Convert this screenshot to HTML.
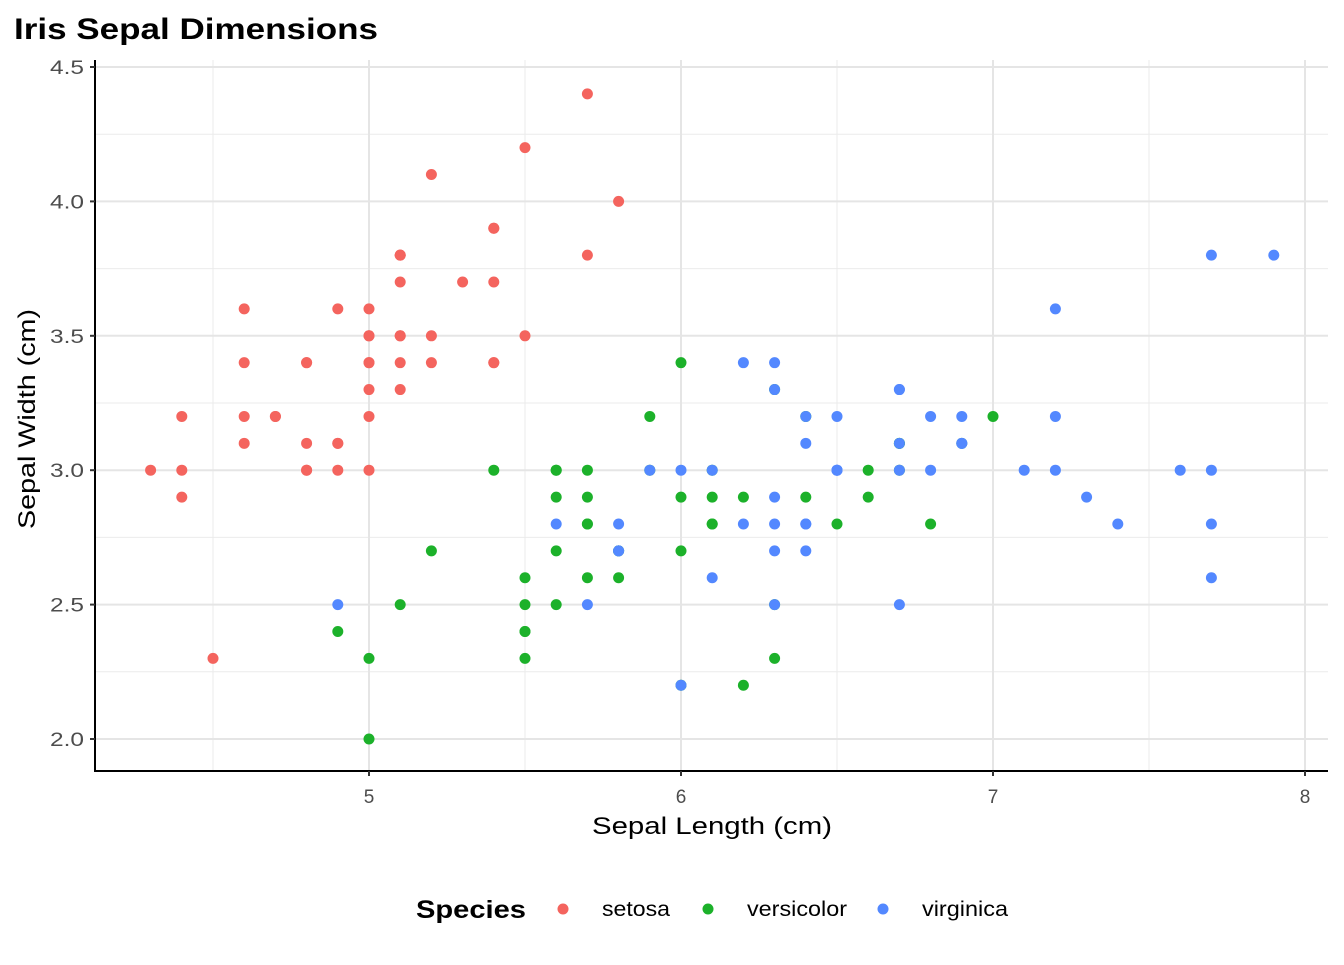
<!DOCTYPE html>
<html><head><meta charset="utf-8"><style>
body{margin:0;background:#fff;}
svg text{font-family:"Liberation Sans",Arial,sans-serif;}
</style></head><body>
<svg id="s" width="1344" height="960" xmlns="http://www.w3.org/2000/svg">
<rect width="1344" height="960" fill="#fff"/>
<g id="grid"></g>
<g id="pts"></g>
<line x1="95" y1="60" x2="95" y2="771" stroke="#000" stroke-width="2"/>
<line x1="94" y1="771" x2="1328" y2="771" stroke="#000" stroke-width="2"/>
<g id="ticks"></g>
<text x="14" y="39" font-size="30" font-weight="bold" fill="#000" textLength="364" lengthAdjust="spacingAndGlyphs">Iris Sepal Dimensions</text>
<text x="592" y="834" font-size="24" fill="#000" textLength="240" lengthAdjust="spacingAndGlyphs">Sepal Length (cm)</text>
<text transform="translate(35,529) rotate(-90)" font-size="24" fill="#000" textLength="220" lengthAdjust="spacingAndGlyphs">Sepal Width (cm)</text>
<text x="416" y="918" font-size="25" font-weight="bold" fill="#000" textLength="110" lengthAdjust="spacingAndGlyphs">Species</text>
<circle cx="563" cy="909" r="5.5" fill="#F4645E"/>
<text x="602" y="916" font-size="21" fill="#000" textLength="68" lengthAdjust="spacingAndGlyphs">setosa</text>
<circle cx="708" cy="909" r="5.5" fill="#1CB12A"/>
<text x="747" y="916" font-size="21" fill="#000" textLength="100" lengthAdjust="spacingAndGlyphs">versicolor</text>
<circle cx="883" cy="909" r="5.5" fill="#5388FF"/>
<text x="922" y="916" font-size="21" fill="#000" textLength="86" lengthAdjust="spacingAndGlyphs">virginica</text>
</svg>
<script>
var NS="http://www.w3.org/2000/svg";
function X(v){return 369+(v-5)*312;}
function Y(v){return 739-(v-2)*268.8;}
function el(p,n,a){var e=document.createElementNS(NS,n);for(var k in a)e.setAttribute(k,a[k]);p.appendChild(e);return e;}
var g=document.getElementById('grid'),t=document.getElementById('ticks'),P=document.getElementById('pts');
for(var v=4.5;v<=7.6;v+=1){el(g,'line',{x1:X(v),x2:X(v),y1:60,y2:771,stroke:'#EBEBEB','stroke-width':1});}
for(var v=2.25;v<4.5;v+=0.5){el(g,'line',{x1:95,x2:1328,y1:Y(v),y2:Y(v),stroke:'#EBEBEB','stroke-width':1});}
for(var v=5;v<=8;v++){el(g,'line',{x1:X(v),x2:X(v),y1:60,y2:771,stroke:'#E5E5E5','stroke-width':2});
 el(t,'line',{x1:X(v),x2:X(v),y1:771,y2:776,stroke:'#333','stroke-width':2});
 var tx=el(t,'text',{x:X(v),y:803,'font-size':19,'text-anchor':'middle',fill:'#4D4D4D'});tx.textContent=v;}
for(var i=0;i<=5;i++){var v=2+i*0.5;el(g,'line',{x1:95,x2:1328,y1:Y(v),y2:Y(v),stroke:'#E5E5E5','stroke-width':2});
 el(t,'line',{x1:90,x2:95,y1:Y(v),y2:Y(v),stroke:'#333','stroke-width':2});
 var tx=el(t,'text',{x:50,y:Y(v)+7,'font-size':19,fill:'#4D4D4D',textLength:34,lengthAdjust:'spacingAndGlyphs'});tx.textContent=v.toFixed(1);}
var D=[["#F4645E","5.1,3.5;4.9,3.0;4.7,3.2;4.6,3.1;5.0,3.6;5.4,3.9;4.6,3.4;5.0,3.4;4.4,2.9;4.9,3.1;5.4,3.7;4.8,3.4;4.8,3.0;4.3,3.0;5.8,4.0;5.7,4.4;5.4,3.9;5.1,3.5;5.7,3.8;5.1,3.8;5.4,3.4;5.1,3.7;4.6,3.6;5.1,3.3;4.8,3.4;5.0,3.0;5.0,3.4;5.2,3.5;5.2,3.4;4.7,3.2;4.8,3.1;5.4,3.4;5.2,4.1;5.5,4.2;4.9,3.1;5.0,3.2;5.5,3.5;4.9,3.6;4.4,3.0;5.1,3.4;5.0,3.5;4.5,2.3;4.4,3.2;5.0,3.5;5.1,3.8;4.8,3.0;5.1,3.8;4.6,3.2;5.3,3.7;5.0,3.3"],
["#1CB12A","7.0,3.2;6.4,3.2;6.9,3.1;5.5,2.3;6.5,2.8;5.7,2.8;6.3,3.3;4.9,2.4;6.6,2.9;5.2,2.7;5.0,2.0;5.9,3.0;6.0,2.2;6.1,2.9;5.6,2.9;6.7,3.1;5.6,3.0;5.8,2.7;6.2,2.2;5.6,2.5;5.9,3.2;6.1,2.8;6.3,2.5;6.1,2.8;6.4,2.9;6.6,3.0;6.8,2.8;6.7,3.0;6.0,2.9;5.7,2.6;5.5,2.4;5.5,2.4;5.8,2.7;6.0,2.7;5.4,3.0;6.0,3.4;6.7,3.1;6.3,2.3;5.6,3.0;5.5,2.5;5.5,2.6;6.1,3.0;5.8,2.6;5.0,2.3;5.6,2.7;5.7,3.0;5.7,2.9;6.2,2.9;5.1,2.5;5.7,2.8"],
["#5388FF","6.3,3.3;5.8,2.7;7.1,3.0;6.3,2.9;6.5,3.0;7.6,3.0;4.9,2.5;7.3,2.9;6.7,2.5;7.2,3.6;6.5,3.2;6.4,2.7;6.8,3.0;5.7,2.5;5.8,2.8;6.4,3.2;6.5,3.0;7.7,3.8;7.7,2.6;6.0,2.2;6.9,3.2;5.6,2.8;7.7,2.8;6.3,2.7;6.7,3.3;7.2,3.2;6.2,2.8;6.1,3.0;6.4,2.8;7.2,3.0;7.4,2.8;7.9,3.8;6.4,2.8;6.3,2.8;6.1,2.6;7.7,3.0;6.3,3.4;6.4,3.1;6.0,3.0;6.9,3.1;6.7,3.1;6.9,3.1;5.8,2.7;6.8,3.2;6.7,3.3;6.7,3.0;6.3,2.5;6.5,3.0;6.2,3.4;5.9,3.0"]];
D.forEach(function(s){s[1].split(';').forEach(function(p){var a=p.split(',');el(P,'circle',{cx:X(+a[0]),cy:Y(+a[1]),r:5.5,fill:s[0]});});});
</script>
</body></html>
